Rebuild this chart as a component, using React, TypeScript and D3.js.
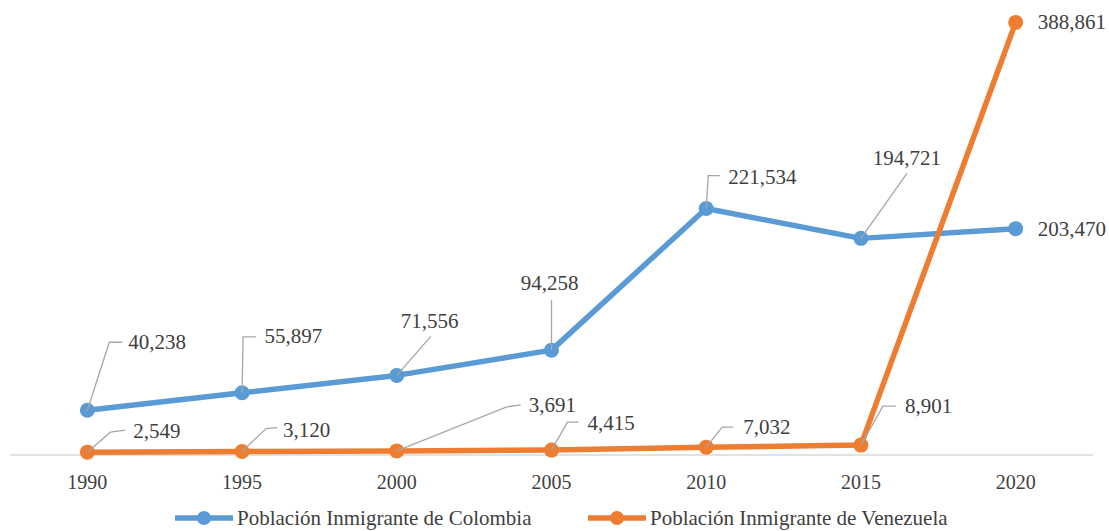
// Inmigración: Colombia vs Venezuela — line chart with data labels
import React, { useEffect } from "react";
import * as d3 from "d3";

const years = ["1990", "1995", "2000", "2005", "2010", "2015", "2020"];
const colombia = [40238, 55897, 71556, 94258, 221534, 194721, 203470];
const venezuela = [2549, 3120, 3691, 4415, 7032, 8901, 388861];
const seriesNames = ["Población Inmigrante de Colombia", "Población Inmigrante de Venezuela"];

// label placement (pixel offsets from each point), like Excel's dragged labels
type Lbl = { dx: number; dy: number; anchor?: string; leader?: [number, number][] };
const colombiaLabels: Lbl[] = [
  { dx: 41, dy: -68, leader: [[0, 0], [22, -68], [35, -68]] },
  { dx: 22.5, dy: -57, leader: [[0, 0], [1, -56], [14, -56]] },
  { dx: 4, dy: -54, leader: [[0, 0], [34, -39]] },
  { dx: -2, dy: -67, anchor: "middle", leader: [[0, 0], [0, -50]] },
  { dx: 22, dy: -32, leader: [[0, 0], [2, -33], [14, -33]] },
  { dx: 46, dy: -80, anchor: "middle", leader: [[0, 0], [46, -65]] },
  { dx: 22, dy: 0 },
];
const venezuelaLabels: Lbl[] = [
  { dx: 46, dy: -21, leader: [[0, 0], [23, -20], [38, -22]] },
  { dx: 41, dy: -22, leader: [[0, 0], [24, -23], [35, -24]] },
  { dx: 132, dy: -46, leader: [[0, 0], [110, -44], [124, -46]] },
  { dx: 36, dy: -27, leader: [[0, 0], [16, -28], [27, -28]] },
  { dx: 37, dy: -20, leader: [[0, 0], [16, -20], [27, -20]] },
  { dx: 44, dy: -39, leader: [[0, 0], [22, -39], [35, -39]] },
  { dx: 22, dy: 0 },
];

const W = 1109;
const H = 531;
const colors = ["#5b9bd5", "#ed7d31"];
const font = "Liberation Serif";
const textColor = "#404040";

const App: React.FC = () => {
  useEffect(() => {
    document.body.style.margin = "0";
  }, []);

  const x = d3.scaleBand().domain(years).range([10, 1093]);
  const y = d3.scaleLinear().domain([0, 400000]).range([455, 10]);
  const cx = (yr: string) => x(yr)! + x.bandwidth() / 2;
  const line = d3.line<[string, number]>().x(d => cx(d[0])).y(d => y(d[1]));
  const fmt = d3.format(",");

  const series = [
    { values: colombia, labels: colombiaLabels, color: colors[0] },
    { values: venezuela, labels: venezuelaLabels, color: colors[1] },
  ];

  const legend = [
    { x: 175, name: seriesNames[0], color: colors[0] },
    { x: 588, name: seriesNames[1], color: colors[1] },
  ];

  return (
    <svg width={W} height={H} style={{ display: "block", background: "#fff" }} fontFamily={font}>
      {/* category axis */}
      <line x1={10} x2={1093} y1={y(0)} y2={y(0)} stroke="#d9d9d9" strokeWidth={1.3} />
      {years.map(yr => (
        <text key={yr} x={cx(yr)} y={482} textAnchor="middle" dominantBaseline="central"
          fontSize={20} fill={textColor} fontFamily={font}>{yr}</text>
      ))}

      {/* lines + markers */}
      {series.map((s, si) => (
        <g key={si}>
          <path d={line(years.map((yr, i) => [yr, s.values[i]]))!} fill="none"
            stroke={s.color} strokeWidth={5.5} strokeLinejoin="round" />
          {years.map((yr, i) => (
            <circle key={yr} cx={cx(yr)} cy={y(s.values[i])} r={7.5} fill={s.color} />
          ))}
        </g>
      ))}

      {/* data labels */}
      {series.map((s, si) => (
        <g key={"l" + si}>
          {years.map((yr, i) => {
            const px = cx(yr), py = y(s.values[i]);
            const l = s.labels[i];
            return (
              <g key={yr}>
                {l.leader && (
                  <polyline fill="none" stroke="#a6a6a6" strokeWidth={1.3}
                    points={l.leader.map(p => `${px + p[0]},${py + p[1]}`).join(" ")} />
                )}
                <text x={px + l.dx} y={py + l.dy} textAnchor={l.anchor || "start"}
                  dominantBaseline="central" fontSize={21} fill={textColor} fontFamily={font}>
                  {fmt(s.values[i])}
                </text>
              </g>
            );
          })}
        </g>
      ))}

      {/* legend */}
      {legend.map(l => (
        <g key={l.name}>
          <line x1={l.x} x2={l.x + 58} y1={518} y2={518} stroke={l.color} strokeWidth={5.5} />
          <circle cx={l.x + 29} cy={518} r={7} fill={l.color} />
          <text x={l.x + 62} y={518} dominantBaseline="central" fontSize={21} fill={textColor}
            fontFamily={font}>
            {l.name}
          </text>
        </g>
      ))}
    </svg>
  );
};

export default App;
